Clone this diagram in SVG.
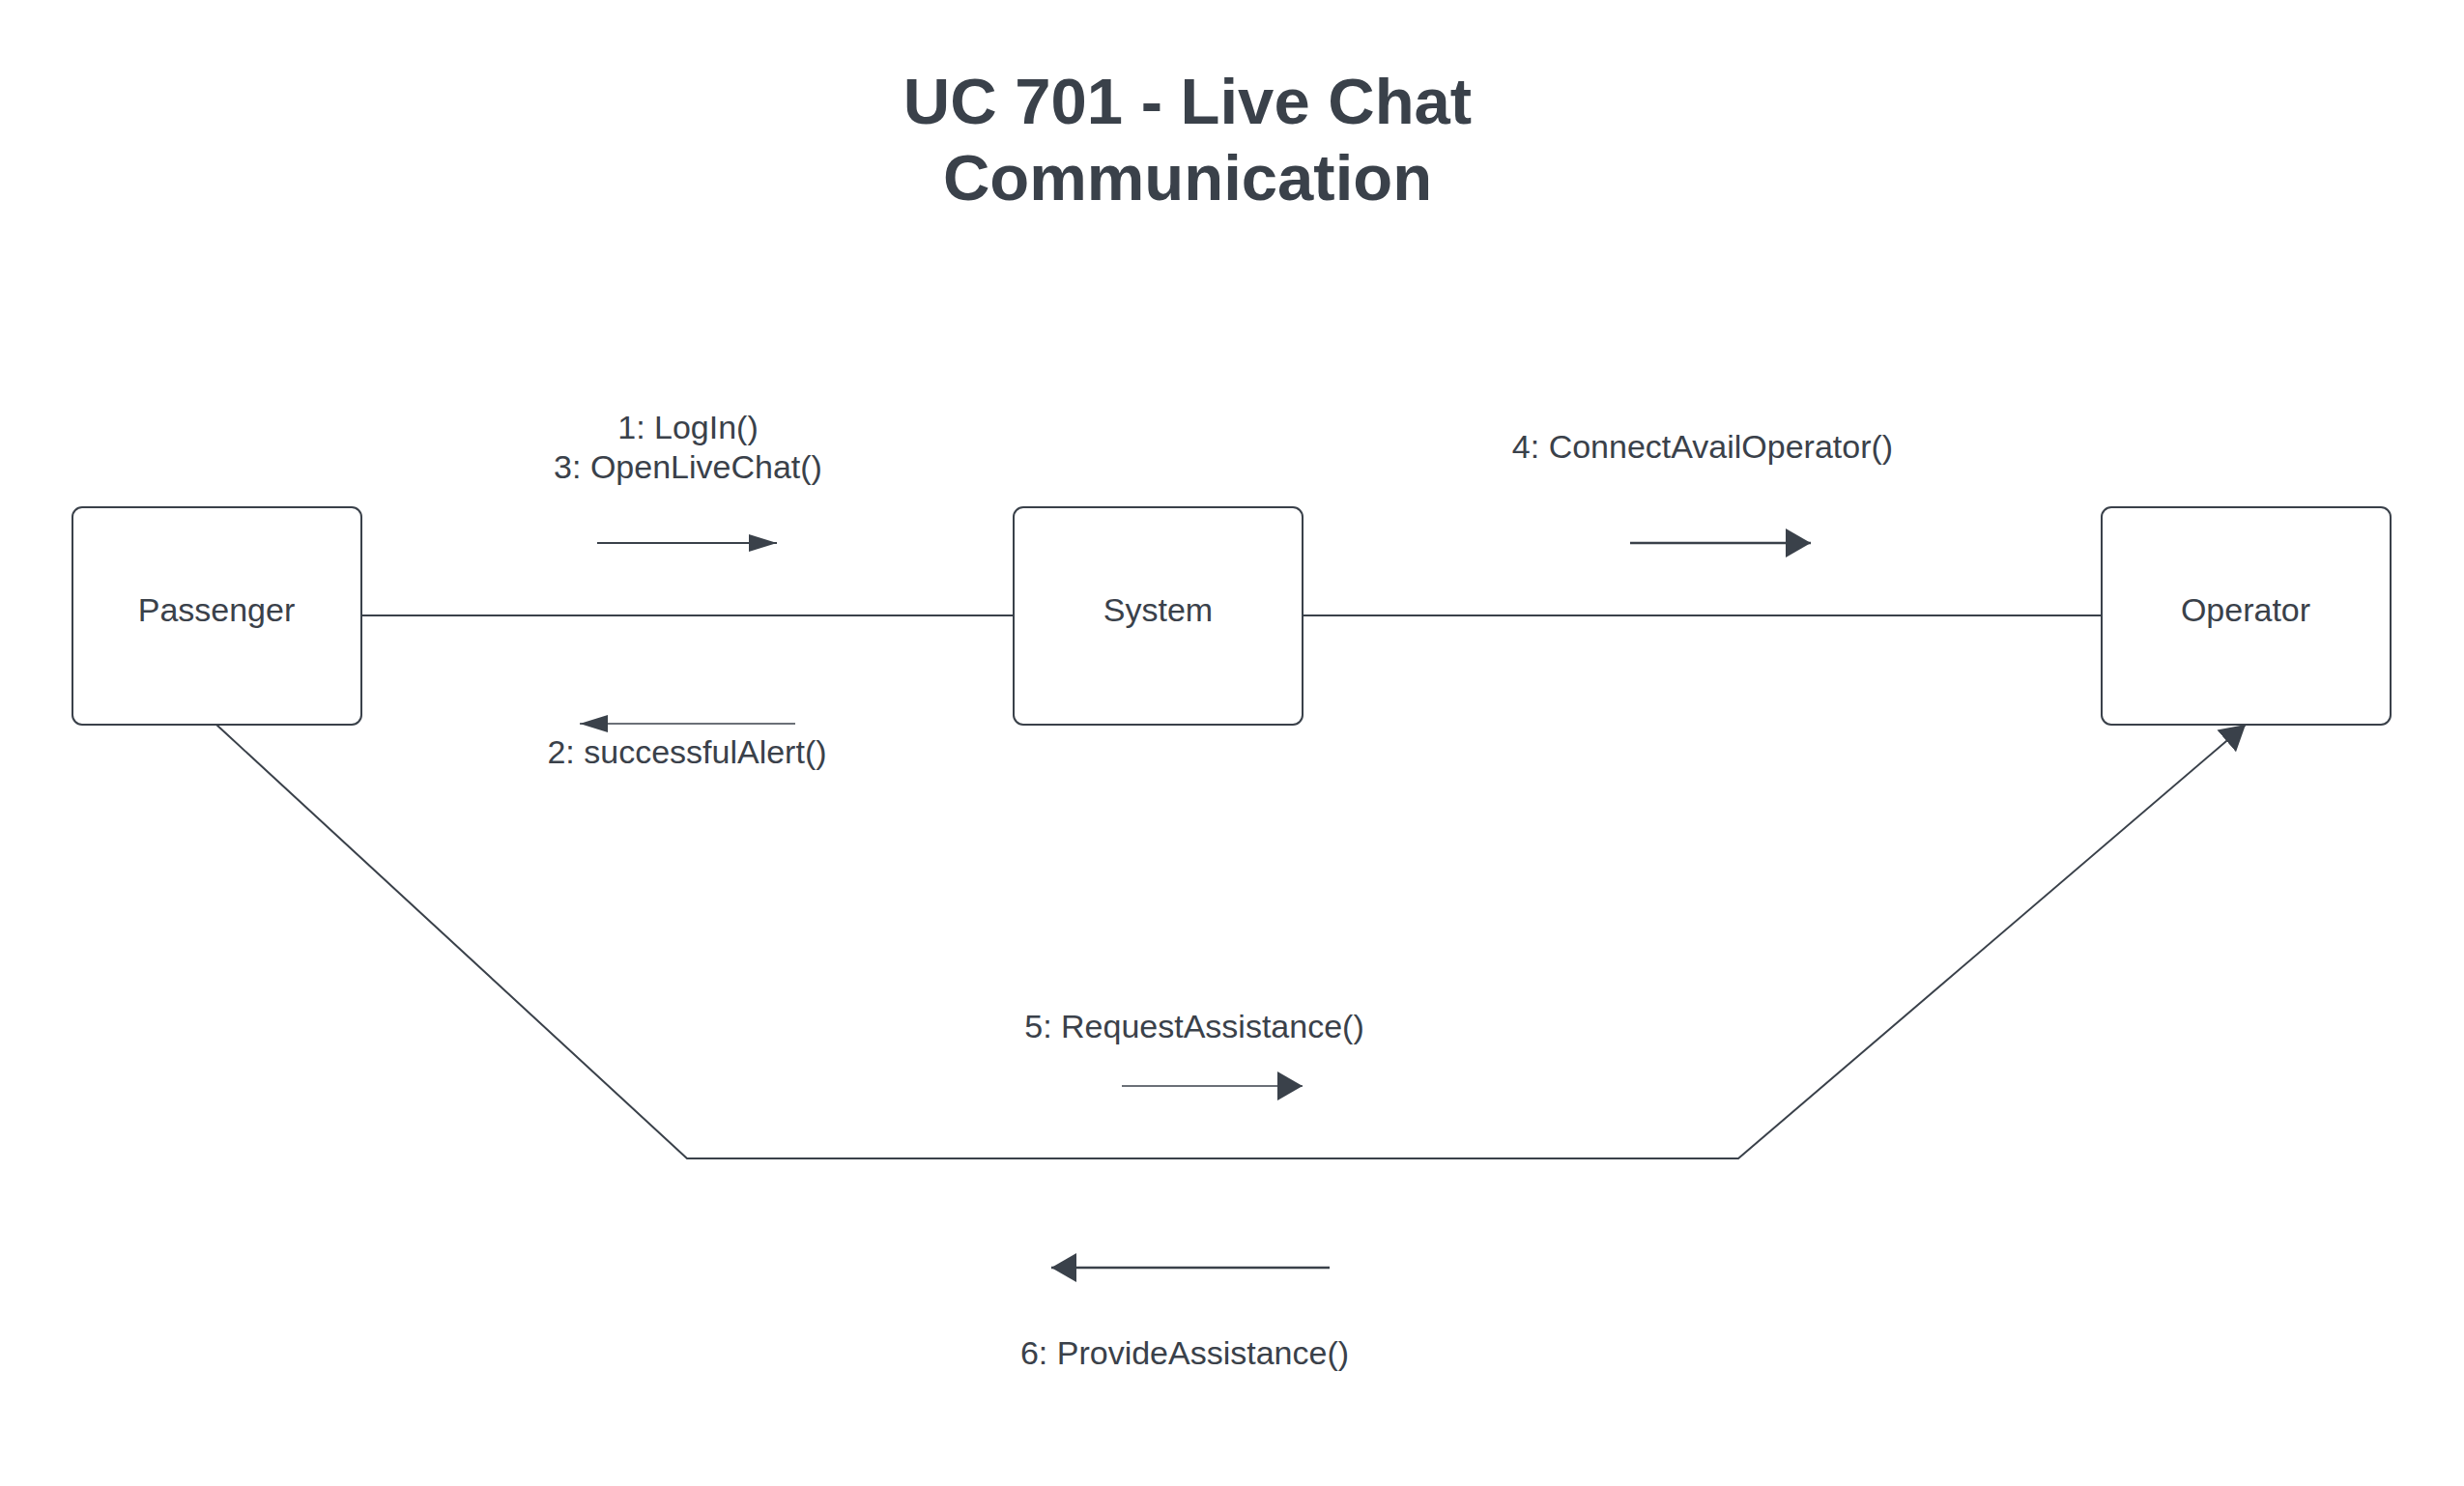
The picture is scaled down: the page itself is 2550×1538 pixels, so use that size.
<svg xmlns="http://www.w3.org/2000/svg" width="2550" height="1538" viewBox="0 0 2550 1538">
<style>
.node{fill:#ffffff;stroke:#3a414a;stroke-width:2}
.t{font-family:"Liberation Sans",Arial,sans-serif;font-size:34px;fill:#3a414a;text-anchor:middle}
.title{font-family:"Liberation Sans",Arial,sans-serif;font-size:67px;font-weight:bold;fill:#3a414a;text-anchor:middle}
.conn{fill:none;stroke:#3a414a;stroke-width:2}
.msg{fill:none;stroke:#3a414a}
</style>
<defs>
<marker id="sm" markerUnits="userSpaceOnUse" markerWidth="30" markerHeight="20" refX="29" refY="9" orient="auto">
<path d="M0,0 L29,9 L0,18 z" fill="#3a414a"/>
</marker>
<marker id="lg" markerUnits="userSpaceOnUse" markerWidth="28" markerHeight="32" refX="26" refY="15" orient="auto">
<path d="M0,0 L26,15 L0,30 z" fill="#3a414a"/>
</marker>
</defs>
<rect width="2550" height="1538" fill="#ffffff"/>
<g id="title">
<text class="title" x="1229" y="128">UC 701 - Live Chat</text>
<text class="title" x="1229" y="207">Communication</text>
</g>
<g id="connectors">
<line class="conn" x1="374" y1="637" x2="1049" y2="637"/>
<line class="conn" x1="1348" y1="637" x2="2175" y2="637"/>
<path class="conn" stroke-width="1.6" d="M224,750 L711,1199 L1799,1199 L2324,750" marker-end="url(#lg)"/>
<line class="msg" stroke-width="2.2" x1="618" y1="562" x2="804" y2="562" marker-end="url(#sm)"/>
<line class="msg" stroke-width="1.3" x1="823" y1="749" x2="600" y2="749" marker-end="url(#sm)"/>
<line class="msg" stroke-width="2.4" x1="1687" y1="562" x2="1874" y2="562" marker-end="url(#lg)"/>
<line class="msg" stroke-width="1.4" x1="1161" y1="1124" x2="1348" y2="1124" marker-end="url(#lg)"/>
<line class="msg" stroke-width="2.4" x1="1376" y1="1312" x2="1088" y2="1312" marker-end="url(#lg)"/>
<text class="t" x="712" y="454">1: LogIn()</text>
<text class="t" x="712" y="495">3: OpenLiveChat()</text>
<text class="t" x="711" y="790">2: successfulAlert()</text>
<text class="t" x="1762" y="474">4: ConnectAvailOperator()</text>
<text class="t" x="1236" y="1074">5: RequestAssistance()</text>
<text class="t" x="1226" y="1412">6: ProvideAssistance()</text>
</g>
<g id="passenger">
<rect class="node" x="75" y="525" width="299" height="225" rx="10"/>
<text class="t" x="224" y="643">Passenger</text>
</g>
<g id="system">
<rect class="node" x="1049" y="525" width="299" height="225" rx="10"/>
<text class="t" x="1198.5" y="643">System</text>
</g>
<g id="operator">
<rect class="node" x="2175" y="525" width="299" height="225" rx="10"/>
<text class="t" x="2324" y="643">Operator</text>
</g>
</svg>
